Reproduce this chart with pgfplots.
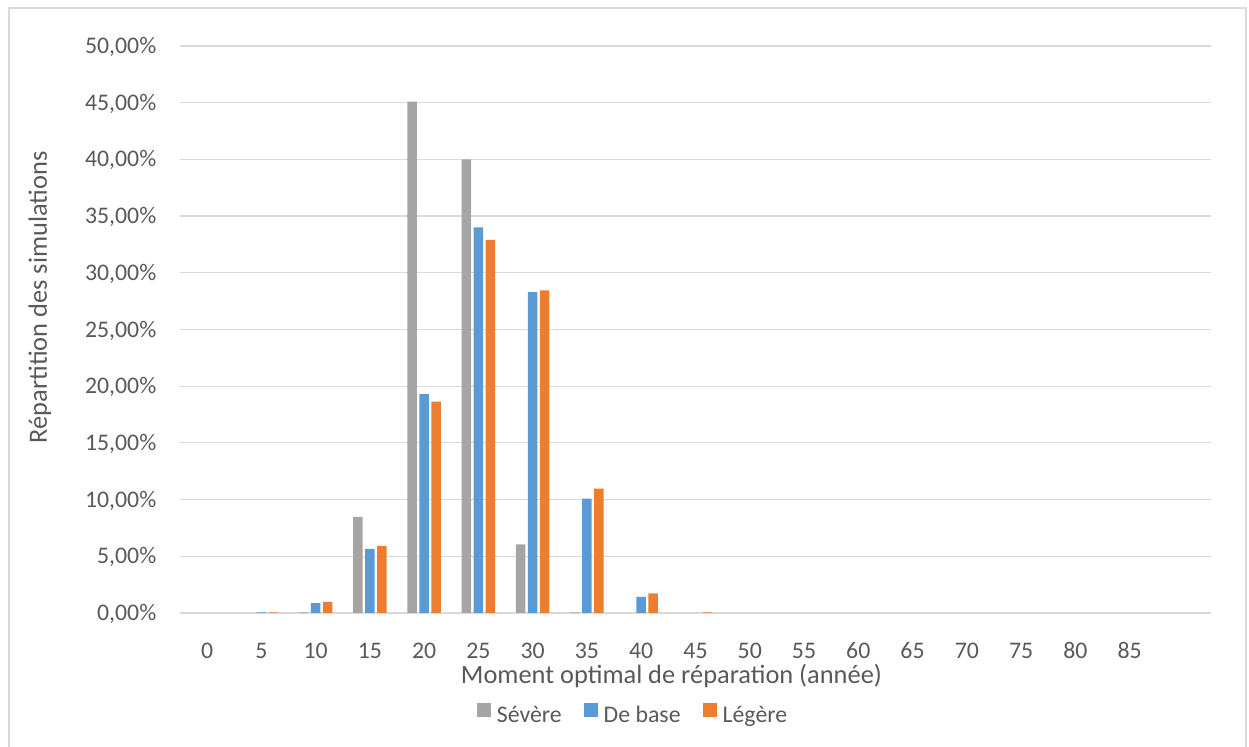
\documentclass[border=0pt]{standalone}
\usepackage{fontspec}
\setmainfont{Carlito}
\usepackage{pgfplots}
\pgfplotsset{compat=1.18}

\definecolor{sev}{HTML}{A5A5A5}
\definecolor{basecol}{HTML}{5B9BD5}
\definecolor{legcol}{HTML}{ED7D31}
\definecolor{txt}{HTML}{595959}
\definecolor{gridgray}{HTML}{D9D9D9}

\begin{document}
\begin{tikzpicture}
\begin{axis}[
  scale only axis,
  width=515.5pt, height=283.5pt,
  xmin=-0.5, xmax=18.5,
  ymin=0, ymax=50,
  ybar, bar width=0.175,
  axis line style={draw=none},
  tick style={draw=none},
  major tick length=0pt,
  ymajorgrids,
  major grid style={gridgray, line width=0.6pt},
  xtick={0,...,18},
  xticklabels={0,5,10,15,20,25,30,35,40,45,50,55,60,65,70,75,80,85,{}},
  ytick={0,5,...,50},
  yticklabels={{0,00\%},{5,00\%},{10,00\%},{15,00\%},{20,00\%},{25,00\%},{30,00\%},{35,00\%},{40,00\%},{45,00\%},{50,00\%}},
  tick label style={font=\fontsize{11.9}{14}\selectfont, text=txt, inner sep=0pt},
  xticklabel style={anchor=base},
  xticklabel shift=23pt,
  yticklabel style={anchor=base east, yshift=-3.76pt},
  yticklabel shift=11.65pt,
  label style={font=\fontsize{13.2}{16}\selectfont, text=txt, inner sep=0pt},
  xlabel={Moment optimal de réparation (année)},
  xlabel style={at={(axis description cs:0.4767,-0.1235)}, anchor=base},
  ylabel={Répartition des simulations},
  ylabel style={at={(axis description cs:-0.129,0.5564)}, anchor=base, rotate=0},
  legend columns=3,
  legend style={at={(axis description cs:0.4399,-0.178)}, anchor=center,
    draw=none, fill=none, inner sep=0pt,
    font=\fontsize{11.9}{14}\selectfont, text=txt,
    nodes={inner xsep=1.25pt, inner ysep=0pt},
    /tikz/every even column/.append style={column sep=10pt}},
  legend image code/.code={%
    \fill[#1] (0pt,-0.5pt) rectangle (7pt,6.5pt);
    \path (0pt,0pt) -- (8.5pt,0pt);},
]
% Sévère
\addplot[fill=sev, draw=none, bar shift=-0.221] coordinates {
  (2,0.05) (3,8.47) (4,45.1) (5,40.0) (6,6.06) (7,0.06)};
\addlegendentry{Sévère}
% De base
\addplot[fill=basecol, draw=none, bar shift=0] coordinates {
  (1,0.05) (2,0.88) (3,5.65) (4,19.29) (5,34.0) (6,28.29) (7,10.09) (8,1.41)};
\addlegendentry{De base}
% Légère
\addplot[fill=legcol, draw=none, bar shift=0.221] coordinates {
  (1,0.05) (2,0.97) (3,5.91) (4,18.65) (5,32.9) (6,28.44) (7,10.97) (8,1.74)
  (9,0.05)};
\addlegendentry{Légère}
\end{axis}
% chart frame
\draw[gridgray, line width=0.75pt] (-85.5pt,-80pt) rectangle (533pt,302.5pt);
\pgfresetboundingbox
\path[use as bounding box] (-90pt,-67pt) rectangle (534.5pt,306.5pt);
\end{tikzpicture}
\end{document}
